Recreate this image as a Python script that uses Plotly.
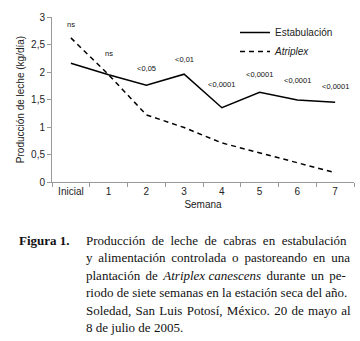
import plotly.graph_objects as go

semanas = ["Inicial", "1", "2", "3", "4", "5", "6", "7"]
estabulacion = [2.16, 1.95, 1.76, 1.96, 1.35, 1.63, 1.49, 1.45]
atriplex = [2.62, 1.95, 1.22, 0.99, 0.71, 0.53, 0.35, 0.17]
p_labels = ["ns", "ns", "<0,05", "<0,01", "<0,0001", "<0,0001", "<0,0001", "<0,0001"]
p_label_y = [2.87, 2.33, 2.07, 2.22, 1.78, 1.95, 1.84, 1.73]

caption_lines = [
    "Producción de leche de cabras en estabulación",
    "y alimentación controlada o pastoreando en una",
    "plantación de <i>Atriplex canescens</i> durante un pe-",
    "riodo de siete semanas en la estación seca del año.",
    "Soledad, San Luis Potosí, México. 20 de mayo al",
    "8 de julio de 2005.",
]
# extra inter-word spacing to imitate the justified caption
caption_gap = ["\u00a0 ", "\u2009 ", "\u200a\u200a ", "", "\u200a ", ""]

W, H = 360, 341
L, R, T, B = 52, 6, 17, 159
plot_h = H - T - B

def py2paper(py):
    return (H - B - py) / plot_h

def px2paper(px):
    return (px - L) / (W - L - R)

fig = go.Figure()
fig.add_trace(go.Scatter(x=semanas, y=estabulacion, mode="lines", name="Estabulación",
                         line=dict(color="black", width=1.5)))
fig.add_trace(go.Scatter(x=semanas, y=atriplex, mode="lines", name="<i>Atriplex</i>",
                         line=dict(color="black", width=1.5, dash="5px,4px")))

annotations = []
for s, t, yv in zip(semanas, p_labels, p_label_y):
    annotations.append(dict(x=s, y=yv, xref="x", yref="y", text=t, showarrow=False,
                            font=dict(family="Liberation Sans, Arial", size=7.5, color="#111")))

cap_font = dict(family="Liberation Serif, Times New Roman", size=13, color="#111")
annotations.append(dict(x=px2paper(17), y=py2paper(240), xref="paper", yref="paper",
                        text="<b>Figura 1.</b>", showarrow=False, xanchor="left", yanchor="middle",
                        font=cap_font))
line_y = [240, 257.5, 275, 292.5, 310, 327.5]
for txt, gap, yy in zip(caption_lines, caption_gap, line_y):
    if gap:
        txt = txt.replace(" ", gap)
        txt = txt.replace("<i>Atriplex" + gap, "<i>Atriplex ")
    annotations.append(dict(x=px2paper(84), y=py2paper(yy), xref="paper", yref="paper",
                            text=txt, showarrow=False, xanchor="left", yanchor="middle",
                            font=cap_font))

fig.update_layout(
    width=W, height=H,
    margin=dict(l=L, r=R, t=T, b=B, autoexpand=False),
    paper_bgcolor="white", plot_bgcolor="white",
    separators=", ",
    font=dict(family="Liberation Sans, Arial", size=10, color="#222"),
    showlegend=True,
    legend=dict(x=px2paper(235), y=py2paper(18), xanchor="left", yanchor="top",
                bgcolor="rgba(0,0,0,0)", font=dict(size=10, color="#222"),
                itemwidth=30, tracegroupgap=0),
    xaxis=dict(type="category", range=[-0.5, 7.5], showline=True, linecolor="#999", linewidth=1,
               ticks="outside", ticklen=4, tickcolor="#999", tickson="boundaries",
               showgrid=False, zeroline=False, tickfont=dict(size=10, color="#222"),
               title=dict(text="Semana", font=dict(size=10, color="#222"), standoff=4)),
    yaxis=dict(range=[0, 3], dtick=0.5, tickformat=",.1~f", showline=True, linecolor="#999",
               linewidth=1, ticks="outside", ticklen=4, tickcolor="#999", showgrid=False,
               zeroline=False, tickfont=dict(size=10, color="#222"),
               title=dict(text="Producción de leche (kg/día)", font=dict(size=10, color="#222"), standoff=4)),
    annotations=annotations,
)

fig.write_html("out.html", config={"displayModeBar": False},
               post_script="document.body.style.margin='0';document.body.style.overflow='hidden';")
